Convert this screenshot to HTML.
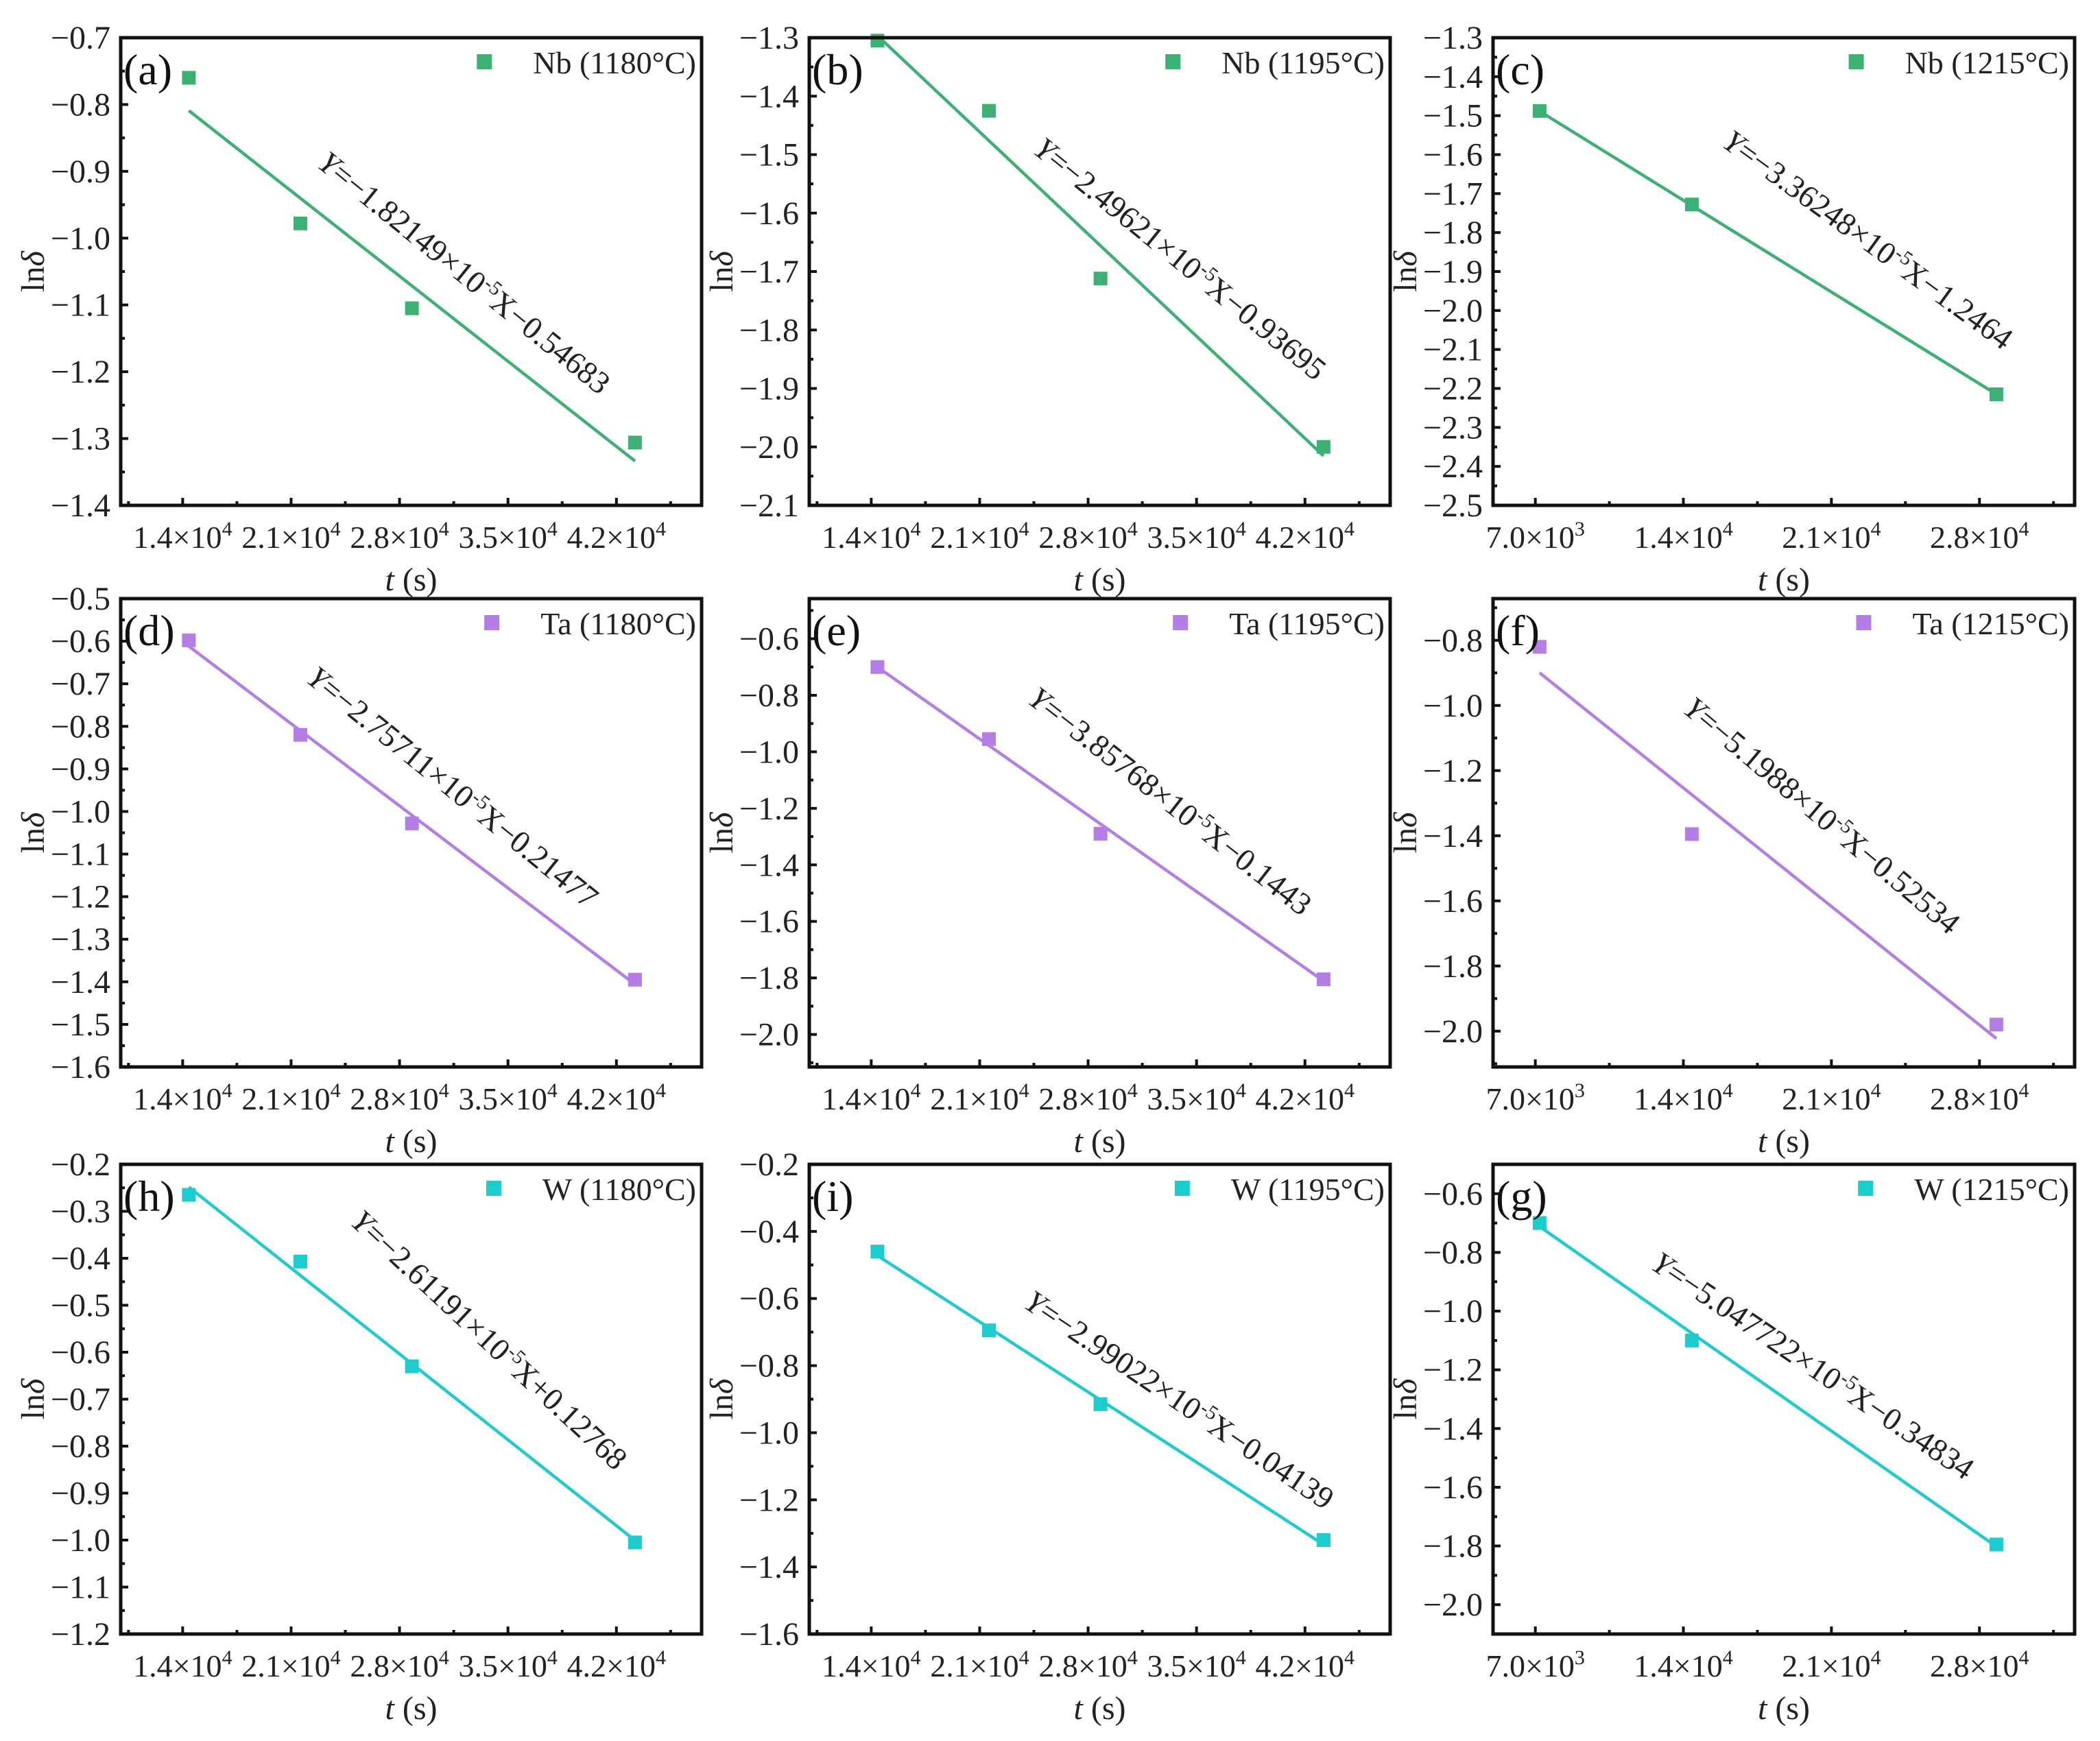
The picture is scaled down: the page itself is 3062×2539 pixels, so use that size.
<!DOCTYPE html>
<html><head><meta charset="utf-8"><style>
html,body{margin:0;padding:0;background:#fff;}
svg{display:block;}
svg text{font-family:"Liberation Serif","Times New Roman",serif;}
</style></head><body>
<svg id="fig" width="3062" height="2539" viewBox="0 0 3062 2539" xmlns="http://www.w3.org/2000/svg" font-family="Liberation Serif, serif"></svg>
<script>
// ---- data ----
const xTimes4 = [14400, 21600, 28800, 43200];
const xTimes3 = [7200, 14400, 28800];
const yNb1180 = [-0.76, -0.978, -1.105, -1.306];
const yNb1195 = [-1.305, -1.425, -1.712, -2.0];
const yNb1215 = [-1.488, -1.728, -2.215];
const yTa1180 = [-0.598, -0.82, -1.028, -1.395];
const yTa1195 = [-0.70, -0.955, -1.29, -1.805];
const yTa1215 = [-0.82, -1.395, -1.98];
const yW1180 = [-0.265, -0.407, -0.63, -1.005];
const yW1195 = [-0.46, -0.695, -0.915, -1.32];
const yW1215 = [-0.70, -1.10, -1.795];
const fitSlopes = [-1.82149e-5, -2.49621e-5, -3.36248e-5, -2.75711e-5, -3.85768e-5, -5.1988e-5, -2.61191e-5, -2.99022e-5, -5.047722e-5];
const fitIntercepts = [-0.54683, -0.93695, -1.2464, -0.21477, -0.1443, -0.52534, 0.12768, -0.04139, -0.34834];
const eqMantissa = ["1.82149", "2.49621", "3.36248", "2.75711", "3.85768", "5.1988", "2.61191", "2.99022", "5.047722"];
const eqConst = ["−0.54683", "−0.93695", "−1.2464", "−0.21477", "−0.1443", "−0.52534", "+0.12768", "−0.04139", "−0.34834"];
const xTicksLong = [14000, 21000, 28000, 35000, 42000];
const xTickLabelsLong = [["1.4","4"],["2.1","4"],["2.8","4"],["3.5","4"],["4.2","4"]];
const xTicksShort = [7000, 14000, 21000, 28000];
const xTickLabelsShort = [["7.0","3"],["1.4","4"],["2.1","4"],["2.8","4"]];
const panelLetters = ["(a)","(b)","(c)","(d)","(e)","(f)","(h)","(i)","(g)"];
const legendLabels = ["Nb (1180°C)","Nb (1195°C)","Nb (1215°C)","Ta (1180°C)","Ta (1195°C)","Ta (1215°C)","W (1180°C)","W (1195°C)","W (1215°C)"];

// ---- layout ----
const colX = [[176,1023],[1180,2027],[2177,3025]];
const rowY = [[55,737],[873,1556],[1698,2383]];
const colors = ["#3bb273","#b57ee6","#1ccdd0"];
const panels = [
 {xs:xTimes4, ys:yNb1180, yr:[-1.4,-0.7], step:0.1, eq:[0.58,0.52,39]},
 {xs:xTimes4, ys:yNb1195, yr:[-2.1,-1.3], step:0.1, eq:[0.627,0.49,39]},
 {xs:xTimes3, ys:yNb1215, yr:[-2.5,-1.3], step:0.1, eq:[0.634,0.45,36]},
 {xs:xTimes4, ys:yTa1180, yr:[-1.6,-0.5], step:0.1, eq:[0.56,0.42,39]},
 {xs:xTimes4, ys:yTa1195, yr:[-2.115,-0.458], step:0.2, eq:[0.61,0.45,38]},
 {xs:xTimes3, ys:yTa1215, yr:[-2.11,-0.672], step:0.2, eq:[0.554,0.48,40]},
 {xs:xTimes4, ys:yW1180, yr:[-1.2,-0.2], step:0.1, eq:[0.622,0.39,43]},
 {xs:xTimes4, ys:yW1195, yr:[-1.6,-0.2], step:0.2, eq:[0.627,0.52,34]},
 {xs:xTimes3, ys:yW1215, yr:[-2.1,-0.5], step:0.2, eq:[0.54,0.447,34]}
];
const NS = "http://www.w3.org/2000/svg";
const FF = "Liberation Serif, Times New Roman, serif";
const svg = document.getElementById('fig');
function mk(tag, attrs, parent){const e=document.createElementNS(NS,tag);for(const k in attrs)e.setAttribute(k,attrs[k]);if(tag==='text')e.setAttribute('font-family',FF);(parent||svg).appendChild(e);return e;}
function fmt(v){const s=Math.abs(v).toFixed(1);return (v< -1e-9?"−":"")+s;}

panels.forEach((p,i)=>{
  const r=Math.floor(i/3), c=i%3;
  const L=colX[c][0], R=colX[c][1], T=rowY[r][0], B=rowY[r][1];
  const shortX = (c===2);
  const xr = shortX ? [5000,32500] : [10000,47500];
  const sx = v => L+(v-xr[0])/(xr[1]-xr[0])*(R-L);
  const sy = v => B-(v-p.yr[0])/(p.yr[1]-p.yr[0])*(B-T);
  const col = colors[r];
  const g = mk('g',{});
  
  
  // y ticks
  const yg = mk('g',{},g);
  
  
  const st=p.step;
  const k0=Math.ceil((p.yr[0]-1e-6)/(st/2)), k1=Math.floor((p.yr[1]+1e-6)/(st/2));
  for(let k=k0;k<=k1;k++){
    const v=k*st/2, y=sy(v), major=(k%2===0);
    mk('line',{x1:L,x2:L+(major?11:6),y1:y,y2:y,stroke:'#111','stroke-width':4},yg);
    if(major){
      const t=mk('text',{x:L-15,y:y+16,'text-anchor':'end','font-size':48,fill:'#222'},yg);
      t.textContent=fmt(v);
      
      
    }
  }
  // x ticks
  const xg = mk('g',{},g);
  
  
  const ticks = shortX ? xTicksShort : xTicksLong;
  const labs = shortX ? xTickLabelsShort : xTickLabelsLong;
  const half = 3500;
  for(let v=ticks[0]-half; v<=xr[1]; v+=half){
    if(v<xr[0]) continue;
    const x=sx(v); const major = ticks.some(t=>Math.abs(t-v)<1);
    mk('line',{x1:x,x2:x,y1:B,y2:B-(major?11:6),stroke:'#111','stroke-width':4},xg);
  }
  ticks.forEach((tv,j)=>{
    const t=mk('text',{x:sx(tv),y:B+62,'text-anchor':'middle','font-size':46,fill:'#222'},xg);
    
    
    const a=mk('tspan',{},t); a.textContent=labs[j][0]+"×10";
    const b=mk('tspan',{dy:-18,'font-size':30},t); b.textContent=labs[j][1];
  });
  // axis titles
  const xt=mk('text',{x:(L+R)/2,y:B+124,'text-anchor':'middle','font-size':48,fill:'#222'},g);
  
  
  const xi=mk('tspan',{'font-style':'italic'},xt); xi.textContent="t";
  const xs2=mk('tspan',{},xt); xs2.textContent=" (s)";
  const ycx=L-112, ycy=(T+B)/2;
  const ytt=mk('text',{x:ycx,y:ycy,'text-anchor':'middle','font-size':48,fill:'#222',transform:`rotate(-90 ${ycx} ${ycy})`},g);
  
  
  const y1=mk('tspan',{},ytt); y1.textContent="ln";
  const y2=mk('tspan',{'font-style':'italic'},ytt); y2.textContent="δ";
  // fit line
  const a=fitSlopes[i], b0=fitIntercepts[i];
  const xa=p.xs[0], xb=p.xs[p.xs.length-1];
  const ln=mk('line',{x1:sx(xa),y1:sy(a*xa+b0),x2:sx(xb),y2:sy(a*xb+b0),stroke:col,'stroke-width':4.5},g);
  
  
  // points
  p.xs.forEach((xv,j)=>{
    const m=mk('rect',{x:sx(xv)-10,y:sy(p.ys[j])-10,width:20,height:20,fill:col},g);
    
    
  });
  // frame
  const fr=mk('rect',{x:L,y:T,width:R-L,height:B-T,fill:'none',stroke:'#111','stroke-width':5},g);
  
  
  // panel label
  const pl=mk('text',{x:L+4,y:T+68,'font-size':64,fill:'#111'},g);
  pl.textContent=panelLetters[i];
  
  
  // legend
  const lg=mk('g',{},g);
  
  
  const lt=mk('text',{x:R-8,y:T+52,'text-anchor':'end','font-size':46,fill:'#222'},lg);
  lt.textContent=legendLabels[i];
  const lw=lt.getComputedTextLength();
  mk('rect',{x:R-8-lw-82,y:T+24,width:22,height:22,fill:col},lg);
  // equation
  const ex=L+p.eq[0]*(R-L), ey=T+p.eq[1]*(B-T);
  const eq=mk('text',{x:ex,y:ey,'text-anchor':'middle','font-size':46,fill:'#222',transform:`rotate(${p.eq[2]} ${ex} ${ey})`},g);
  
  
  const e1=mk('tspan',{'font-style':'italic'},eq); e1.textContent="Y";
  const e2=mk('tspan',{},eq); e2.textContent="=−"+eqMantissa[i]+"×10";
  const e3=mk('tspan',{dy:-17,'font-size':29},eq); e3.textContent="-5";
  const e4=mk('tspan',{dy:17},eq); e4.textContent="X"+eqConst[i];
});
</script>
</body></html>
